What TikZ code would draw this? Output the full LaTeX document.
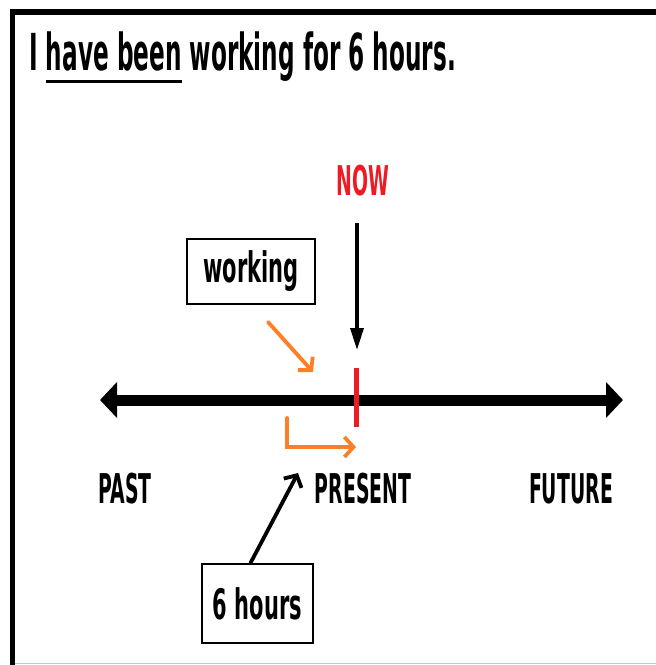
\documentclass[tikz,border=0pt]{standalone}
\usepackage{fontspec}
\usepackage{tikz}
\usetikzlibrary{arrows.meta,positioning}

\newfontfamily\titlefont{DejaVu Sans}[FakeStretch=0.455]
\newfontfamily\wordfont{DejaVu Sans}[FakeStretch=0.50]
\newfontfamily\capsfont{DejaVu Sans}[FakeStretch=0.46]
\newcommand\thickul[1]{\setbox0\hbox{#1}\rlap{\rule[-13pt]{\wd0}{3pt}}\box0\relax}

\definecolor{paintred}{RGB}{237,28,36}
\definecolor{paintorange}{RGB}{255,127,39}

\begin{document}
\begin{tikzpicture}[x=1pt, y=-1pt,
	big/.style={font=\fontsize{41}{41}\bfseries\capsfont},
	word/.style={font=\fontsize{42}{42}\bfseries\wordfont},
	wordbox/.style={word, draw, line width=2pt, inner sep=0pt},
	timeline/.style={line width=11pt, {Triangle[width=35pt,length=17pt]}-{Triangle[width=35pt,length=17pt]}},
	pointer/.style={line width=3.5pt, -{Triangle[width=13pt,length=22pt]}},
	barb/.style={line width=3.8pt, line cap=round, -{Straight Barb[length=9pt,width=20pt]}}]
	\useasboundingbox (0,0) rectangle (656,665);
	\draw [line width=5pt] (12.5,665) -- (12.5,12);
	\draw [line width=6pt] (10,12) -- (656,12);
	\draw [line width=1.5pt, black!22] (15,663.5) -- (656,663.5);

	\node [anchor=base west, inner sep=0pt, font=\fontsize{51}{51}\bfseries\titlefont] (title) at (29,70) {I \thickul{have been} working for 6 hours.};

	\node [big, text=paintred, anchor=base] (now) at (363,195) {NOW};
	\node [big, anchor=base] (past) at (125,503) {PAST};
	\node [big, anchor=base] (present) at (363,503) {PRESENT};
	\node [big, anchor=base] (future) at (571,503) {FUTURE};

	\node [wordbox, minimum width=128pt, minimum height=65pt] (working) at (251,271.5) {working};
	\node [wordbox, minimum width=111pt, minimum height=79pt] (hours) at (257.5,603.5) {6 hours};

	\coordinate (pastend) at (100,400);
	\coordinate (futureend) at (623,400);
	\coordinate (nowtip) at (357,350);
	\coordinate (ticktop) at (356,368);
	\coordinate (tickbottom) at (356,427);
	\coordinate (workstart) at (268,322);
	\coordinate (worktip) at (313,372);
	\coordinate (spanstart) at (287,418);
	\coordinate (spanend) at (356,447);
	\coordinate (hourstip) at (298,473);

	\draw [timeline] (pastend) -- (futureend);
	\draw [pointer, shorten <=24pt] (now.south -| nowtip) -- (nowtip);
	\draw [paintred, line width=5pt] (ticktop) -- (tickbottom);
	\draw [barb, paintorange] (workstart) -- (worktip);
	\draw [barb, paintorange] (spanstart) |- (spanend);
	\draw [barb] ([xshift=-7pt]hours.north) -- (hourstip);
\end{tikzpicture}
\end{document}
